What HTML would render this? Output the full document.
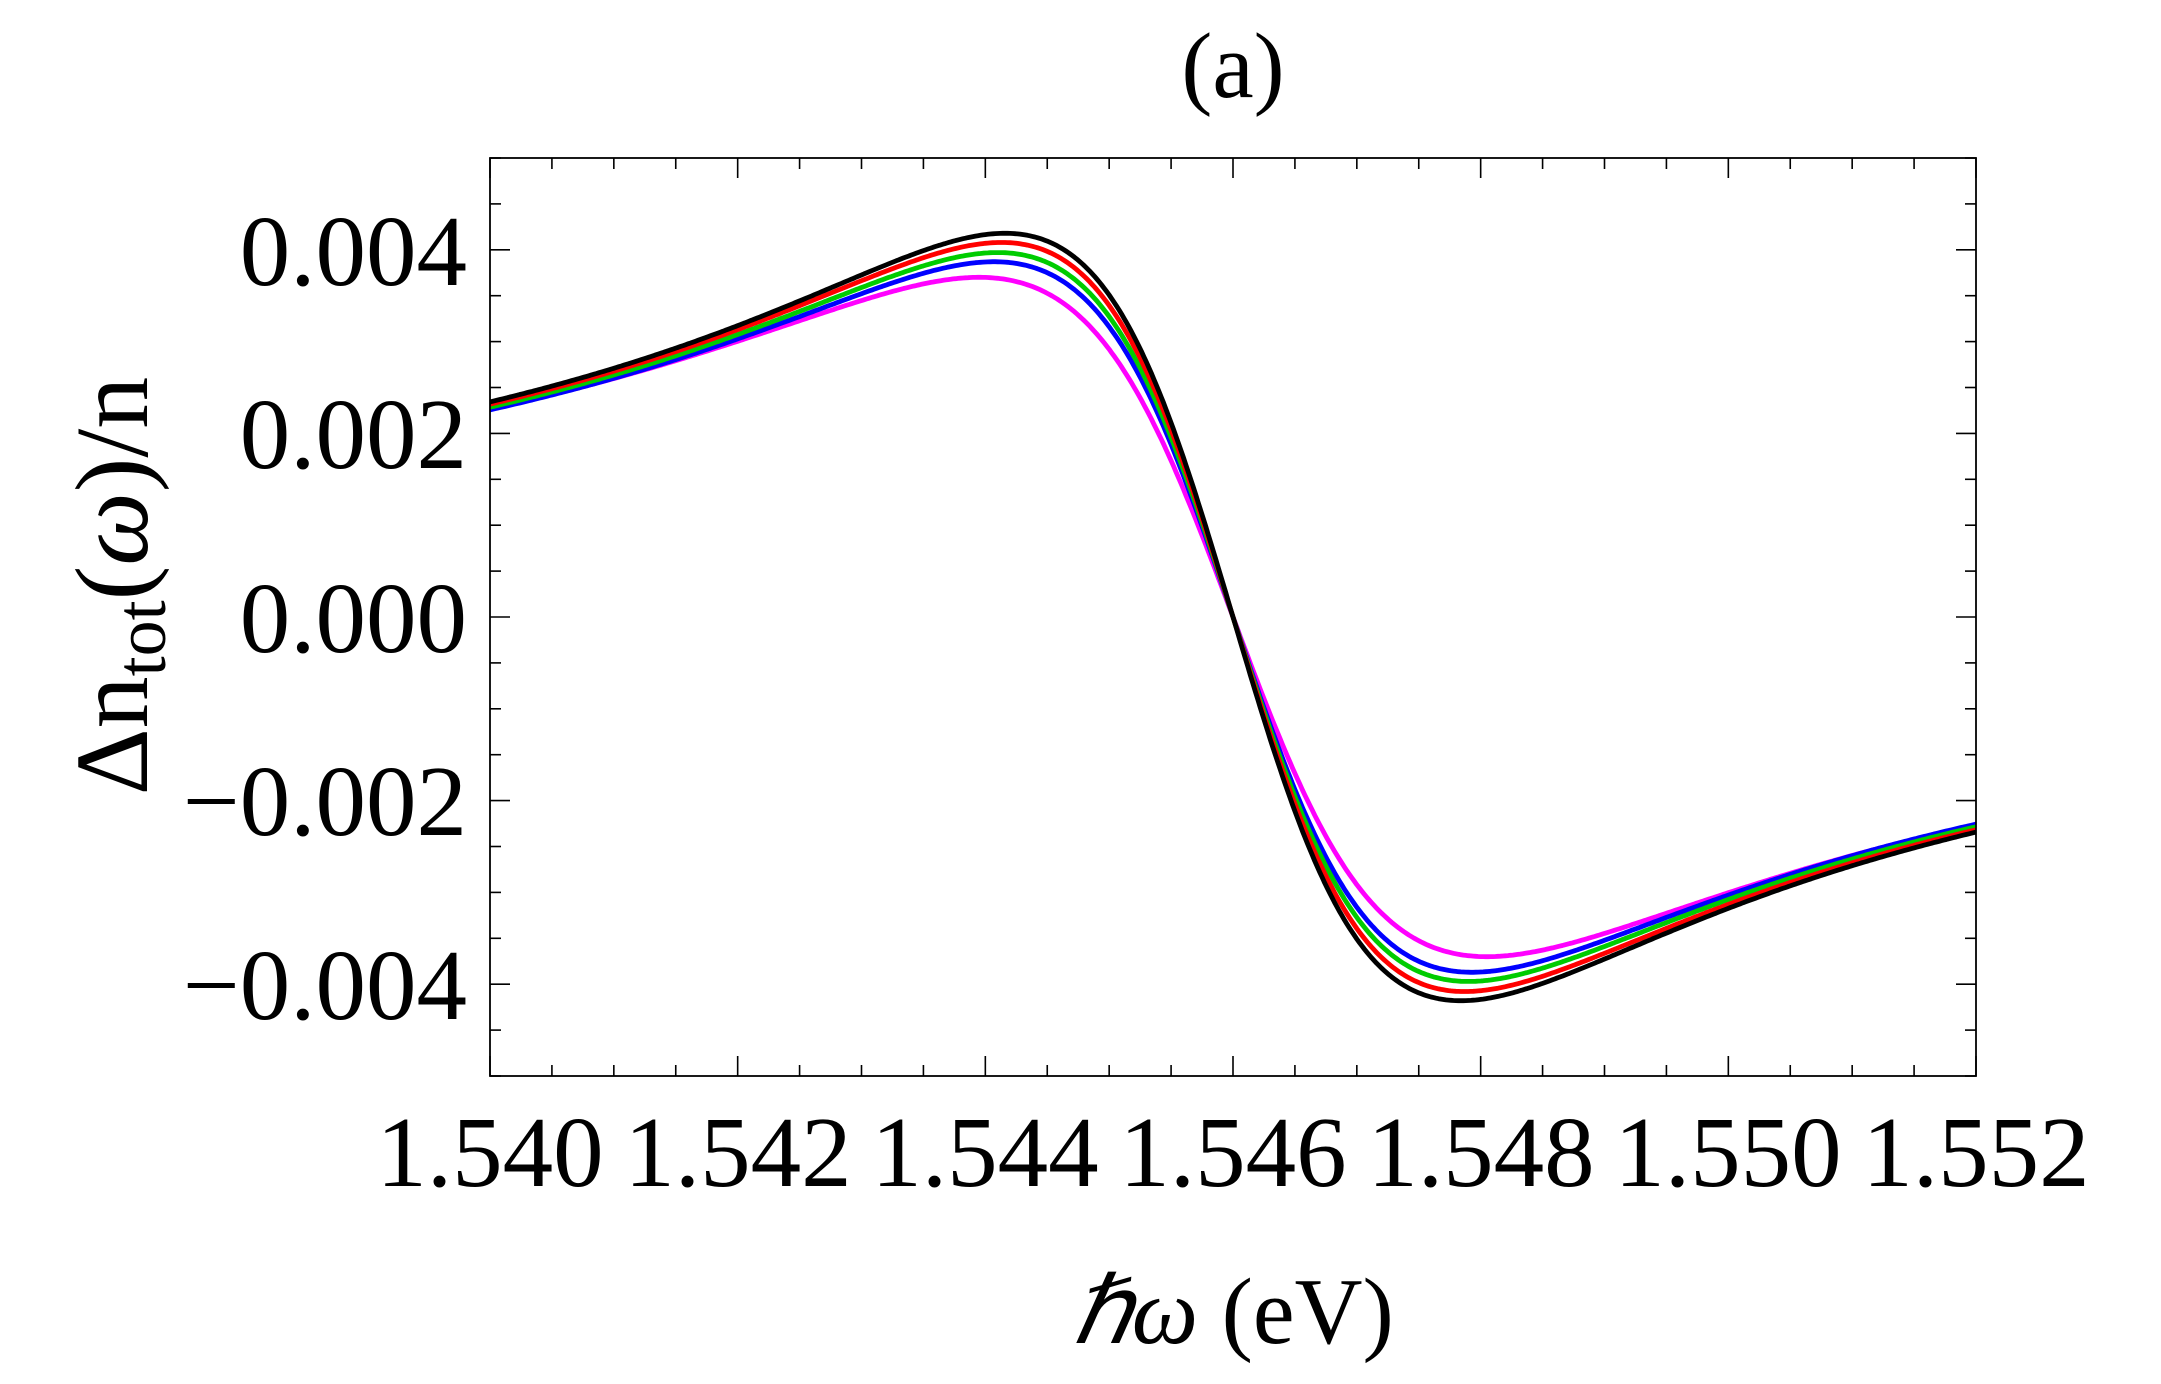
<!DOCTYPE html>
<html><head><meta charset="utf-8"><style>
html,body{margin:0;padding:0;background:#fff;}
svg{display:block;}
text{font-family:"Liberation Serif",serif;fill:#000;}
</style></head><body>
<svg id="s" width="2161" height="1384" viewBox="0 0 2161 1384" xmlns="http://www.w3.org/2000/svg">
<rect width="2161" height="1384" fill="#fff"/>
<text x="1233" y="97" font-size="93" text-anchor="middle">(a)</text>
<g id="ticks" stroke="#000" stroke-width="1.6"></g>
<g id="curves" fill="none" stroke-width="4.8" stroke-linejoin="round"></g>
<rect x="490" y="158" width="1486" height="918" fill="none" stroke="#000" stroke-width="1.8"/>
<g font-size="101" text-anchor="end">
<text x="467" y="285">0.004</text>
<text x="467" y="468">0.002</text>
<text x="467" y="652">0.000</text>
<text x="467" y="835">−0.002</text>
<text x="467" y="1019">−0.004</text>
</g>
<g font-size="101" text-anchor="middle">
<text x="490" y="1186">1.540</text>
<text x="738" y="1186">1.542</text>
<text x="985" y="1186">1.544</text>
<text x="1233" y="1186">1.546</text>
<text x="1481" y="1186">1.548</text>
<text x="1728" y="1186">1.550</text>
<text x="1976" y="1186">1.552</text>
</g>
<text x="1233" y="1343" font-size="94" text-anchor="middle"><tspan font-style="italic">ℏω</tspan> (eV)</text>
<text transform="translate(147,586) rotate(-90)" font-size="104" text-anchor="middle">Δn<tspan font-size="72" dy="18">tot</tspan><tspan dy="-18">(</tspan><tspan font-style="italic">ω</tspan>)/n</text>
</svg>
<script>
var L=490,R=1976,T=158,B=1076;
function px(x){return L+(x-1.540)/0.012*(R-L);}
function py(y){return 617-y/0.005*459;}
var t='';
for(var i=0;i<=24;i++){var x=px(1.540+i*0.0005);var len=(i%4==0)?20:11;
t+='<line x1="'+x+'" y1="'+B+'" x2="'+x+'" y2="'+(B-len)+'"/><line x1="'+x+'" y1="'+T+'" x2="'+x+'" y2="'+(T+len)+'"/>';}
for(var j=-10;j<=10;j++){var y=py(j*0.0005);var len=(j%4==0)?20:11;
t+='<line x1="'+L+'" y1="'+y+'" x2="'+(L+len)+'" y2="'+y+'"/><line x1="'+R+'" y1="'+y+'" x2="'+(R-len)+'" y2="'+y+'"/>';}
document.getElementById('ticks').innerHTML=t;
var series=[["#ff00ff",0.0037,0.00205],["#0000ff",0.00387,0.00193],["#00cc00",0.00397,0.0019],["#ff0000",0.00408,0.00187],["#000000",0.00418,0.00184]];
var c='';
series.forEach(function(s){var A=2*s[1],g=s[2],d='';
for(var k=0;k<=600;k++){var x=1.540+k*0.012/600;var dd=x-1.546;var y=-A*dd*g/(dd*dd+g*g);
d+=(k?'L':'M')+px(x).toFixed(1)+' '+py(y).toFixed(1);}
c+='<path d="'+d+'" stroke="'+s[0]+'"/>';});
document.getElementById('curves').innerHTML=c;
</script>
</body></html>
